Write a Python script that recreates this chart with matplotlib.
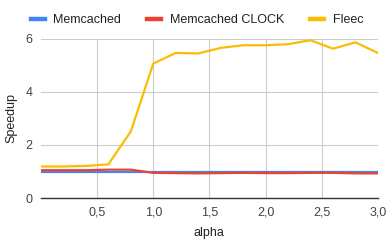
import matplotlib
matplotlib.use('Agg')
import matplotlib.pyplot as plt
import numpy as np

plt.rcParams['font.family'] = ['Liberation Sans', 'DejaVu Sans']

alpha = [0.0, 0.2, 0.4, 0.6, 0.8, 1.0, 1.2, 1.4, 1.6, 1.8, 2.0, 2.2, 2.4, 2.6, 2.8, 3.0]
memcached = [1.0, 1.0, 1.0, 1.0, 1.0, 1.0, 1.0, 1.0, 1.0, 1.0, 1.0, 1.0, 1.0, 1.0, 1.0, 1.0]
memcached_clock = [1.05, 1.05, 1.05, 1.07, 1.07, 0.95, 0.94, 0.93, 0.94, 0.95, 0.94, 0.94, 0.95, 0.95, 0.93, 0.93]
fleec = [1.19, 1.19, 1.21, 1.27, 2.51, 5.07, 5.47, 5.45, 5.66, 5.76, 5.76, 5.8, 5.95, 5.63, 5.87, 5.47]

xticks = [0.5, 1.0, 1.5, 2.0, 2.5, 3.0]
xticklabels = ['0,5', '1,0', '1,5', '2,0', '2,5', '3,0']
yticks = [0, 2, 4, 6]

fig = plt.figure(figsize=(3.9, 2.43), dpi=100)
ax = fig.add_axes([0.105, 0.185, 0.864, 0.655])

ax.plot(alpha, memcached, color='#4285F4', lw=1.6, label='Memcached', zorder=3)
ax.plot(alpha, memcached_clock, color='#EA4335', lw=1.6, label='Memcached CLOCK', zorder=4)
ax.plot(alpha, fleec, color='#FBBC04', lw=1.6, label='Fleec', zorder=5)

ax.set_xlim(0, 3.0)
ax.set_ylim(0, 6)
ax.set_xticks(xticks)
ax.set_xticklabels(xticklabels)
ax.set_yticks(yticks)
ax.grid(True, color='#cccccc', lw=0.8)
ax.set_axisbelow(True)
for s in ['top', 'right', 'left']:
    ax.spines[s].set_visible(False)
ax.spines['bottom'].set_color('#333333')
ax.spines['bottom'].set_linewidth(1.0)
ax.tick_params(length=0, labelsize=9, colors='#444444', pad=6)
ax.set_xlabel('alpha', fontsize=9, color='#222222', labelpad=6)
ax.set_ylabel('Speedup', fontsize=9, color='#222222', labelpad=6)

ax.legend(loc='lower left', bbox_to_anchor=(-0.045, 1.047), ncol=3, frameon=False,
          fontsize=9, handlelength=1.1, handletextpad=0.7, columnspacing=2.1,
          borderaxespad=0, labelcolor='#222222')
leg = ax.get_legend()
for h in leg.get_lines():
    h.set_linewidth(3.2)

fig.savefig('out.png', dpi=100)
